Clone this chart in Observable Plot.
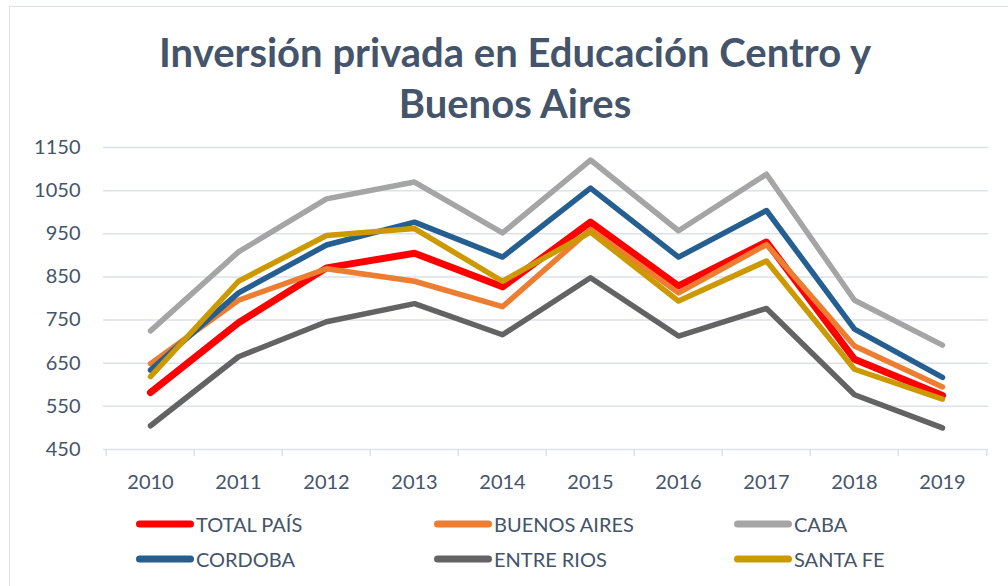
<!DOCTYPE html>
<html><head><meta charset="utf-8">
<script src="https://cdn.jsdelivr.net/npm/d3@7"></script>
<script src="https://cdn.jsdelivr.net/npm/@observablehq/plot@0.6"></script>
<style>
body{margin:0;background:#fff;font-family:Lato,"Open Sans",sans-serif;}
#wrap{position:relative;width:1008px;height:586px;overflow:hidden;background:#fff;}
#frame{position:absolute;left:9px;top:6px;width:1100px;height:700px;border:1.5px solid #dde2ea;}
#title{position:absolute;left:10px;width:1010px;top:27px;text-align:center;font-weight:bold;font-size:40px;line-height:51px;color:#44546a;}
#chart{position:absolute;left:0;top:0;}
.item{position:absolute;display:flex;align-items:center;height:24px;font-size:20px;color:#44546a;white-space:nowrap;}
.item svg{display:block;margin-right:2px;}
</style></head>
<body>
<div id="wrap">
  <div id="frame"></div>
  <div id="title">Inversión privada en Educación Centro y<br>Buenos Aires</div>
  <div id="chart"></div>
  <div id="legend"></div>
</div>
<script>
const years = [2010, 2011, 2012, 2013, 2014, 2015, 2016, 2017, 2018, 2019];
const seriesNames = ["TOTAL PAÍS", "BUENOS AIRES", "CABA", "CORDOBA", "ENTRE RIOS", "SANTA FE"];
const seriesColors = ["#ff0000", "#ed7d31", "#a5a5a5", "#255e91", "#636363", "#cc9900"];
const totalPais   = [582, 744, 871, 905, 827, 977, 829, 931, 659, 575];
const buenosAires = [649, 796, 869, 840, 781, 960, 813, 925, 690, 595];
const caba        = [725, 908, 1031, 1070, 952, 1121, 957, 1088, 796, 692];
const cordoba     = [634, 813, 924, 977, 896, 1056, 896, 1004, 729, 617];
const entreRios   = [505, 665, 746, 788, 716, 848, 713, 777, 577, 500];
const santaFe     = [619, 840, 946, 962, 840, 954, 794, 887, 636, 567];
const yTicks = [450, 550, 650, 750, 850, 950, 1050, 1150];

const seriesValues = [totalPais, buenosAires, caba, cordoba, entreRios, santaFe];
const rows = [];
seriesNames.forEach((name, s) => years.forEach((yr, i) => rows.push({series: name, year: String(yr), value: seriesValues[s][i]})));

const W = 1008, H = 500, mL = 103, mR = 20;
const bw = (W - mL - mR) / years.length;
const grid = "#dde2ea";
const textColor = "#44546a";
const xDomain = years.map(String);

const lineMarks = seriesNames.map((name, s) => Plot.line(rows.filter(d => d.series === name), {
  x: "year", y: "value", stroke: seriesColors[s],
  strokeWidth: s === 0 ? 7 : 5.5, strokeLinecap: "round", strokeLinejoin: "round"
}));

const chart = Plot.plot({
  width: W, height: H,
  marginTop: 147, marginBottom: 51, marginLeft: mL, marginRight: mR,
  style: {fontFamily: "Lato, 'Open Sans', sans-serif", fontSize: "20px", color: textColor, background: "transparent", overflow: "visible"},
  x: {type: "point", domain: xDomain, padding: 0.5},
  y: {domain: [450, 1150]},
  marks: [
    Plot.gridY(yTicks.filter(t => t > 450), {stroke: grid, strokeOpacity: 1, strokeWidth: 1.5}),
    Plot.ruleY([450], {stroke: grid, strokeWidth: 1.5}),
    Plot.ruleX(xDomain, {x: d => d, y1: 450, y2: 450, insetBottom: -7, dx: -bw / 2, stroke: grid, strokeWidth: 1.5}),
    Plot.ruleX([xDomain[xDomain.length - 1]], {x: d => d, y1: 450, y2: 450, insetBottom: -7, dx: bw / 2, stroke: grid, strokeWidth: 1.5}),
    Plot.axisY({ticks: yTicks, tickFormat: d => String(d), tickSize: 0, tickPadding: 23, label: null, fill: textColor, fontSize: 20}),
    Plot.axisX({tickSize: 0, tickPadding: 25, label: null, fill: textColor, fontSize: 20}),
    ...lineMarks
  ]
});
document.getElementById("chart").appendChild(chart);

// legend
const legendCols = [136, 434, 734];
const legendRows = [524, 559];
const legend = document.getElementById("legend");
seriesNames.forEach((name, i) => {
  const col = i % 3, row = Math.floor(i / 3);
  const div = document.createElement("div");
  div.className = "item";
  div.style.left = legendCols[col] + "px";
  div.style.top = (legendRows[row] - 12) + "px";
  div.innerHTML = `<svg width="58" height="12"><line x1="3.5" y1="6" x2="54.5" y2="6" stroke="${seriesColors[i]}" stroke-width="7" stroke-linecap="round"/></svg><span>${name}</span>`;
  legend.appendChild(div);
});
</script>
</body></html>
